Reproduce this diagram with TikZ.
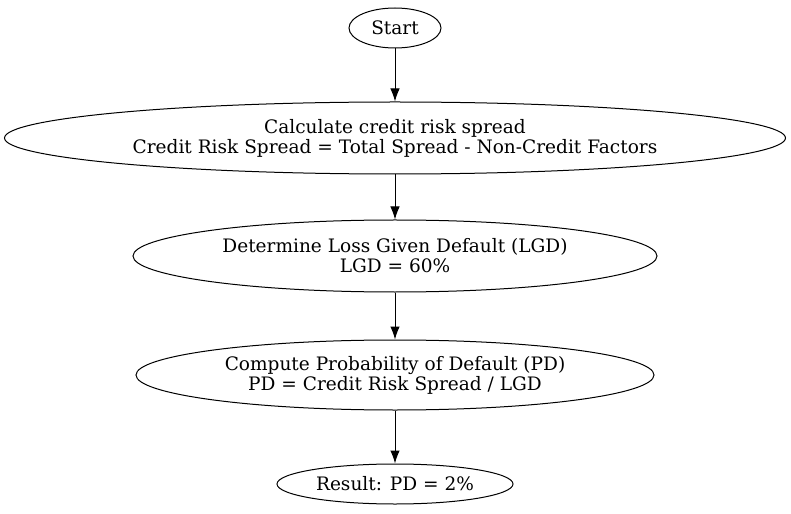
\documentclass[tikz,border=0pt]{standalone}
\usepackage{fontspec}
\setmainfont{DejaVu Serif}
\usetikzlibrary{shapes.geometric,arrows.meta}
\begin{document}
\begin{tikzpicture}[x=1bp,y=-1bp,
  box/.style={draw, ellipse, inner sep=0pt, align=center, font=\fontsize{18.6}{20}\selectfont, line width=1bp},
  arr/.style={-{Latex[length=13bp,width=9.5bp]}, line width=1bp}]
\useasboundingbox (0,0) rectangle (791,514);
\node[box, minimum width=92bp, minimum height=40bp] (start) at (395,28) {Start};
\node[box, minimum width=781bp, minimum height=72bp] (spread) at (395,138) {Calculate credit risk spread\\Credit Risk Spread = Total Spread - Non-Credit Factors};
\node[box, minimum width=524bp, minimum height=72bp] (lgd) at (395,256) {Determine Loss Given Default (LGD)\\LGD = 60\%};
\node[box, minimum width=518bp, minimum height=70bp] (pd) at (395,375) {Compute Probability of Default (PD)\\PD = Credit Risk Spread / LGD};
\node[box, minimum width=236bp, minimum height=40bp] (res) at (395,484) {Result: PD = 2\%};
\draw[arr] (start) -- (spread);
\draw[arr] (spread) -- (lgd);
\draw[arr] (lgd) -- (pd);
\draw[arr] (pd) -- (res);
\end{tikzpicture}
\end{document}
